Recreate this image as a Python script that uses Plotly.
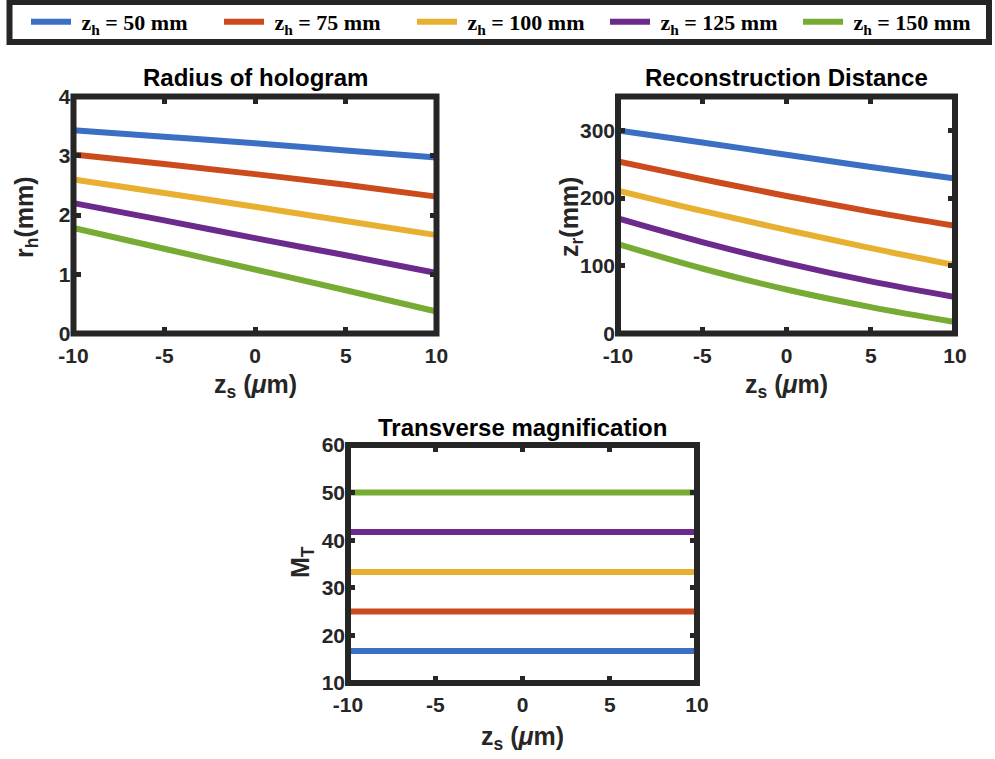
import plotly.graph_objects as go

W, H = 995, 759

# ---------------- data ----------------
zs = [-10, -5, 0, 5, 10]  # z_s (um)
series_names = ["\u00a0z<sub>h</sub> = 50 mm", "\u00a0z<sub>h</sub> = 75 mm", "\u00a0z<sub>h</sub> = 100 mm",
                "\u00a0z<sub>h</sub> = 125 mm", "\u00a0z<sub>h</sub> = 150 mm"]
colors = ["#3b6fc4", "#cc4b1c", "#e8b030", "#6c2a8c", "#77ab33"]

# Radius of hologram r_h (mm)
rh_50 = [3.43, 3.32, 3.21, 3.09, 2.97]
rh_75 = [3.02, 2.86, 2.69, 2.51, 2.31]
rh_100 = [2.60, 2.37, 2.14, 1.90, 1.66]
rh_125 = [2.20, 1.91, 1.61, 1.32, 1.02]
rh_150 = [1.78, 1.43, 1.08, 0.73, 0.37]

# Reconstruction distance z_r (mm)
zr_50 = [300, 282, 264, 246, 229]
zr_75 = [254, 228, 203, 180, 159]
zr_100 = [211, 181, 153, 126, 101]
zr_125 = [170, 135, 104, 77, 54]
zr_150 = [132, 96, 65, 39, 17]

# Transverse magnification M_T
mt_50 = [16.7, 16.7, 16.7, 16.7, 16.7]
mt_75 = [25.0, 25.0, 25.0, 25.0, 25.0]
mt_100 = [33.3, 33.3, 33.3, 33.3, 33.3]
mt_125 = [41.7, 41.7, 41.7, 41.7, 41.7]
mt_150 = [50.0, 50.0, 50.0, 50.0, 50.0]

rh = [rh_50, rh_75, rh_100, rh_125, rh_150]
zr = [zr_50, zr_75, zr_100, zr_125, zr_150]
mt = [mt_50, mt_75, mt_100, mt_125, mt_150]

x_ticks = [-10, -5, 0, 5, 10]
x_ticktext = ["-10", "-5", "0", "5", "10"]
rh_ticks = [0, 1, 2, 3, 4]
zr_ticks = [0, 100, 200, 300]
mt_ticks = [10, 20, 30, 40, 50, 60]

# ---------------- helpers ----------------
def px_x(p):
    return p / W

def px_y(p):
    return 1 - p / H

DARK = "#262626"
TICKFONT = dict(family="Liberation Sans, Arial, sans-serif", size=21, color=DARK, weight="bold")
TITLEFONT = dict(family="Liberation Sans, Arial, sans-serif", size=24, color="black", weight="bold")
LABELFONT = dict(family="Liberation Sans, Arial, sans-serif", size=25, color=DARK, weight="bold")

fig = go.Figure()

for i in range(5):
    fig.add_trace(go.Scatter(x=zs, y=rh[i], mode="lines", name=series_names[i],
                             line=dict(color=colors[i], width=6, shape="spline"),
                             xaxis="x", yaxis="y", showlegend=True))
for i in range(5):
    fig.add_trace(go.Scatter(x=zs, y=zr[i], mode="lines", name=series_names[i],
                             line=dict(color=colors[i], width=6, shape="spline"),
                             xaxis="x2", yaxis="y2", showlegend=False))
for i in range(5):
    fig.add_trace(go.Scatter(x=zs, y=mt[i], mode="lines", name=series_names[i],
                             line=dict(color=colors[i], width=6),
                             xaxis="x3", yaxis="y3", showlegend=False))

domains = {
    "1": dict(x=[px_x(73.5), px_x(436.5)], y=[px_y(333.5), px_y(96.5)]),
    "2": dict(x=[px_x(618), px_x(955)], y=[px_y(333.5), px_y(96.5)]),
    "3": dict(x=[px_x(348), px_x(697)], y=[px_y(683), px_y(445)]),
}
yranges = {"1": [0, 4], "2": [0, 350], "3": [10, 60]}
yticks = {"1": rh_ticks, "2": zr_ticks, "3": mt_ticks}

common = dict(showgrid=False, zeroline=False, showline=False, ticks="inside",
              ticklen=7, tickwidth=5, tickcolor=DARK, mirror="ticks",
              tickfont=TICKFONT, automargin=False)

layout = dict(
    width=W, height=H,
    margin=dict(l=0, r=0, t=0, b=0, autoexpand=False),
    paper_bgcolor="white", plot_bgcolor="white",
    showlegend=True,
    legend=dict(orientation="h", x=px_x(26), xanchor="left", y=px_y(22), yanchor="middle",
                font=dict(family="Liberation Serif, Times New Roman, serif", size=22,
                          color="black", weight="bold"),
                bgcolor="rgba(0,0,0,0)", borderwidth=0, itemwidth=40,
                entrywidth=138, entrywidthmode="pixels"),
)

for k in ["1", "2", "3"]:
    xa = "xaxis" if k == "1" else "xaxis" + k
    ya = "yaxis" if k == "1" else "yaxis" + k
    yanchor_name = "y" if k == "1" else "y" + k
    xanchor_name = "x" if k == "1" else "x" + k
    layout[xa] = dict(domain=domains[k]["x"], range=[-10, 10], tickvals=x_ticks,
                      ticktext=x_ticktext, anchor=yanchor_name, ticklabelstandoff=7, **common)
    layout[ya] = dict(domain=domains[k]["y"], range=yranges[k], tickvals=yticks[k],
                      anchor=xanchor_name, ticklabelstandoff=2, **common)

fig.update_layout(**layout)

# frames (MATLAB-like box)
for k in ["1", "2", "3"]:
    xr = "x domain" if k == "1" else "x%s domain" % k
    yr = "y domain" if k == "1" else "y%s domain" % k
    fig.add_shape(type="rect", xref=xr, yref=yr, x0=0, x1=1, y0=0, y1=1,
                  line=dict(color=DARK, width=6), layer="above")

# legend box
fig.add_shape(type="rect", xref="paper", yref="paper",
              x0=px_x(9.5), x1=px_x(989), y0=px_y(42), y1=px_y(2),
              line=dict(color=DARK, width=6), layer="above")

# subplot titles
titles = [("Radius of hologram", 255, 78), ("Reconstruction Distance", 786, 78),
          ("Transverse magnification", 522, 427)]
for t, xx, yy in titles:
    fig.add_annotation(text=t, xref="paper", yref="paper", x=px_x(xx), y=px_y(yy),
                       xanchor="center", yanchor="middle", showarrow=False, font=TITLEFONT)

# axis labels
xlabels = [(255, 386), (786, 386), (522, 738)]
for xx, yy in xlabels:
    fig.add_annotation(text="z<sub>s</sub> (<i>μ</i>m)", xref="paper", yref="paper",
                       x=px_x(xx), y=px_y(yy), xanchor="center", yanchor="middle",
                       showarrow=False, font=LABELFONT)

ylabels = [("r<sub>h</sub>(mm)", 26, 217), ("z<sub>r</sub>(mm)", 571, 217),
           ("M<sub>T</sub>", 302, 562)]
for t, xx, yy in ylabels:
    fig.add_annotation(text=t, xref="paper", yref="paper", x=px_x(xx), y=px_y(yy),
                       xanchor="center", yanchor="middle", textangle=-90,
                       showarrow=False, font=LABELFONT)

fig.write_html("out.html")
